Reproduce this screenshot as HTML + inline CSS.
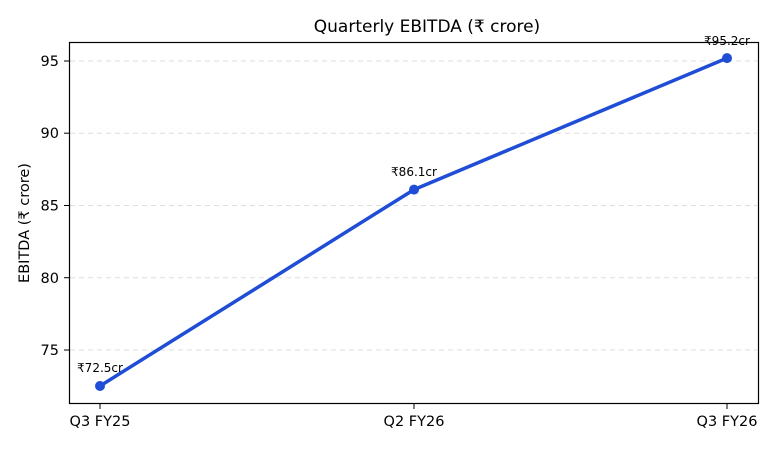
<!DOCTYPE html>
<html><head><meta charset="utf-8"><style>
body{margin:0;background:#fff}
svg text{font-family:"DejaVu Sans","Liberation Sans",sans-serif;fill:#000}
</style></head><body>
<svg width="780" height="446" viewBox="0 0 780 446" xmlns="http://www.w3.org/2000/svg">
<rect width="780" height="446" fill="#fff"/>
<text x="427" y="32" font-size="17" text-anchor="middle">Quarterly EBITDA (₹ crore)</text>
<g stroke="#ddd" stroke-width="1" stroke-dasharray="5,4">
<line x1="70" x2="757" y1="61" y2="61"/>
<line x1="70" x2="757" y1="133.2" y2="133.2"/>
<line x1="70" x2="757" y1="205.5" y2="205.5"/>
<line x1="70" x2="757" y1="277.7" y2="277.7"/>
<line x1="70" x2="757" y1="350" y2="350"/>
</g>
<rect x="69.5" y="42.5" width="689" height="361" fill="none" stroke="#000" stroke-width="1.2"/>
<g stroke="#000" stroke-width="1">
<line x1="64" x2="69" y1="61" y2="61"/>
<line x1="64" x2="69" y1="133.2" y2="133.2"/>
<line x1="64" x2="69" y1="205.5" y2="205.5"/>
<line x1="64" x2="69" y1="277.7" y2="277.7"/>
<line x1="64" x2="69" y1="350" y2="350"/>
<line x1="100" x2="100" y1="404" y2="409"/>
<line x1="414" x2="414" y1="404" y2="409"/>
<line x1="727" x2="727" y1="404" y2="409"/>
</g>
<g font-size="14.5" text-anchor="end">
<text x="59" y="66">95</text>
<text x="59" y="138">90</text>
<text x="59" y="210.5">85</text>
<text x="59" y="283">80</text>
<text x="59" y="355">75</text>
</g>
<g font-size="14.5" text-anchor="middle">
<text x="100" y="426">Q3 FY25</text>
<text x="414" y="426">Q2 FY26</text>
<text x="727" y="426">Q3 FY26</text>
</g>
<text transform="translate(29,223) rotate(-90)" font-size="14.5" text-anchor="middle">EBITDA (₹ crore)</text>
<polyline points="100,386 414,189.6 727,58.1" fill="none" stroke="#1f4dd6" stroke-width="3.5" stroke-linejoin="round"/>
<g fill="#1f4dd6">
<circle cx="100" cy="386" r="5"/>
<circle cx="414" cy="189.6" r="5"/>
<circle cx="727" cy="58.1" r="5"/>
</g>
<g font-size="12" text-anchor="middle">
<text x="100" y="372">₹72.5cr</text>
<text x="414" y="176">₹86.1cr</text>
<text x="727" y="45">₹95.2cr</text>
</g>
</svg>
</body></html>
